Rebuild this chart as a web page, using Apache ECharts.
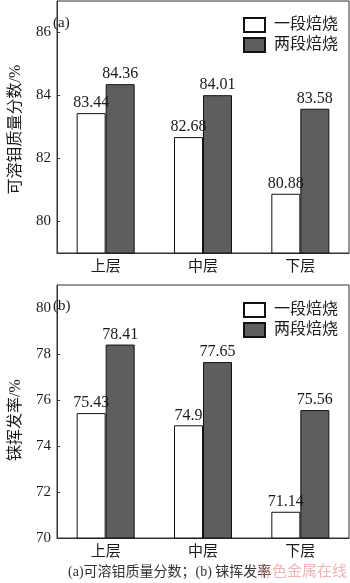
<!DOCTYPE html>
<html>
<head>
<meta charset="utf-8">
<script src="https://cdn.jsdelivr.net/npm/echarts@6/dist/echarts.min.js"></script>
<style>
  html, body { margin: 0; padding: 0; background: #fff; }
  #main { width: 350px; height: 583px; }
</style>
</head>
<body>
<div id="main"></div>
<script>
// Layers of the roasted material
const categories = ['上层', '中层', '下层'];
const seriesNames = ['一段焙烧', '两段焙烧'];

// (a) soluble Mo mass fraction, %
const moOneStage = [83.44, 82.68, 80.88];
const moTwoStage = [84.36, 84.01, 83.58];
const moTicks = [80, 82, 84, 86];

// (b) Re volatilization rate, %
const reOneStage = [75.43, 74.9, 71.14];
const reTwoStage = [78.41, 77.65, 75.56];
const reTicks = [70, 72, 74, 76, 78, 80];

const FONT = "'Liberation Serif', 'Times New Roman', 'Noto Sans CJK SC', serif";
const TEXT_COLOR = '#1a1a1a';
const LINE_COLOR = '#333';
const DARK_FILL = '#5e5e5e';

const chart = echarts.init(document.getElementById('main'));

function xAxisFor(gridIndex) {
  return {
    type: 'category',
    gridIndex,
    data: categories,
    axisLine: { lineStyle: { color: LINE_COLOR, width: 1 } },
    axisTick: { show: false },
    axisLabel: { color: TEXT_COLOR, fontFamily: FONT, fontSize: 15, margin: 7 }
  };
}

function yAxisFor(gridIndex, min, max, ticks, name, namePad) {
  return {
    type: 'value',
    gridIndex,
    min, max,
    name,
    nameLocation: 'middle',
    nameRotate: 90,
    nameGap: 33,
    nameTextStyle: { color: TEXT_COLOR, fontFamily: FONT, fontSize: 16, padding: [0, namePad, 0, 0] },
    splitLine: { show: false },
    axisLine: { show: true, lineStyle: { color: LINE_COLOR, width: 1 } },
    axisTick: { show: true, inside: true, length: 3, customValues: ticks, lineStyle: { color: LINE_COLOR } },
    axisLabel: { color: TEXT_COLOR, fontFamily: FONT, fontSize: 15, margin: 6, customValues: ticks }
  };
}

function barSeries(name, data, axisIndex, fill) {
  return {
    name,
    type: 'bar',
    xAxisIndex: axisIndex,
    yAxisIndex: axisIndex,
    data,
    barWidth: 29,
    barGap: '0%',
    itemStyle: { color: fill, borderColor: '#111', borderWidth: 1 },
    label: {
      show: true,
      position: 'top',
      distance: 2,
      color: TEXT_COLOR,
      fontFamily: FONT,
      fontSize: 16
    },
    emphasis: { disabled: true }
  };
}

function legendFor(top) {
  return {
    data: seriesNames,
    orient: 'vertical',
    left: 243,
    top,
    padding: 0,
    itemWidth: 21,
    itemHeight: 14,
    itemGap: 4,
    icon: 'rect',
    textStyle: { color: TEXT_COLOR, fontFamily: FONT, fontSize: 16, padding: [0, 0, 0, 4] },
    selectedMode: false
  };
}

chart.setOption({
  animation: false,
  backgroundColor: '#fff',
  grid: [
    { left: 46, top: 1, width: 303, height: 252, show: true, borderColor: LINE_COLOR, borderWidth: 1, backgroundColor: 'transparent' },
    { left: 46, top: 285, width: 303, height: 253, show: true, borderColor: LINE_COLOR, borderWidth: 1, backgroundColor: 'transparent' }
  ],
  legend: [legendFor(17), legendFor(302)],
  xAxis: [xAxisFor(0), xAxisFor(1)],
  yAxis: [
    yAxisFor(0, 79, 87, moTicks, '可溶钼质量分数/%', 5),
    yAxisFor(1, 70, 81, reTicks, '铼挥发率/%', 17)
  ],
  series: [
    barSeries(seriesNames[0], moOneStage, 0, '#ffffff'),
    barSeries(seriesNames[1], moTwoStage, 0, DARK_FILL),
    barSeries(seriesNames[0], reOneStage, 1, '#ffffff'),
    barSeries(seriesNames[1], reTwoStage, 1, DARK_FILL)
  ],
  graphic: [
    { type: 'text', left: 53, top: 16, style: { text: '(a)', fill: TEXT_COLOR, font: '15px ' + FONT } },
    { type: 'text', left: 53, top: 299, style: { text: '(b)', fill: TEXT_COLOR, font: '15px ' + FONT } },
    { type: 'text', left: 68, top: 565, style: { text: '(a)可溶钼质量分数；(b) 铼挥发率', fill: '#333', font: '14px ' + FONT } },
    { type: 'text', left: 257, top: 565, style: { text: '有色金属在线', fill: 'rgba(225,120,120,0.55)', font: '15px ' + FONT } }
  ]
});
</script>
</body>
</html>
